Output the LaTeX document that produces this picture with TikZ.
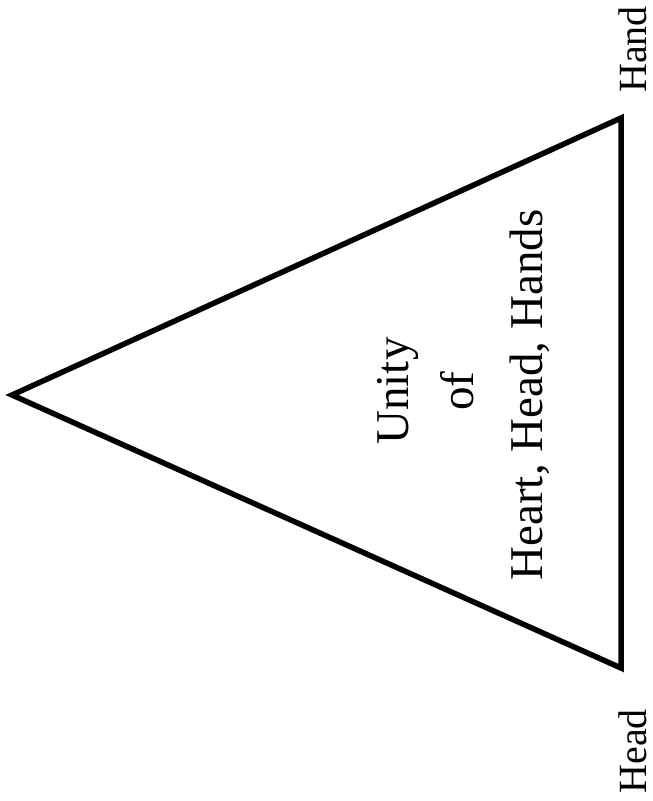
\documentclass[tikz,border=0pt]{standalone}
\usepackage{fontspec}
\setmainfont{Liberation Serif}
\begin{document}
\begin{tikzpicture}[x=1pt,y=-1pt,
  lbl/.style={rotate=90,inner sep=0pt,font=\fontsize{47}{56}\selectfont},
  corner/.style={rotate=90,inner sep=0pt,font=\fontsize{40}{48}\selectfont}]
\useasboundingbox (0,0) rectangle (653,801);
\coordinate (apex) at (12,395);
\coordinate (tr) at (621,118);
\coordinate (br) at (621,668);
\draw[line width=5.5pt,line join=miter] (apex) -- (tr) -- (br) -- cycle;
\node[lbl,anchor=base] (unity) at (408,391) {Unity};
\node[lbl,anchor=base] (of) at (473,391) {of};
\node[lbl,anchor=base] (hhh) at (542,395) {Heart, Head, Hands};
\node[corner,anchor=base west] (hand) at (646,93) {Hand};
\node[corner,anchor=base east] (head) at (646,709) {Head};
\end{tikzpicture}
\end{document}
